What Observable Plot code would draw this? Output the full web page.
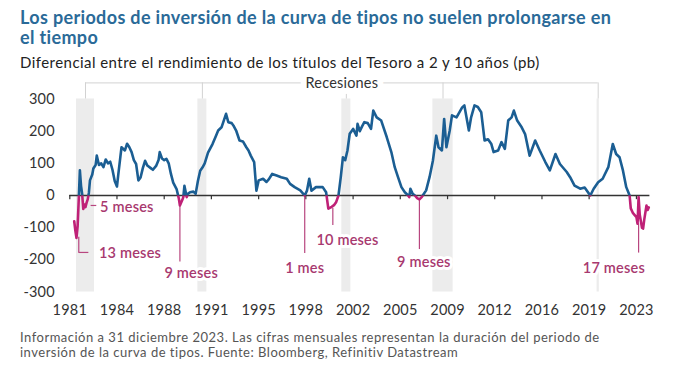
<!DOCTYPE html>
<html><head><meta charset="utf-8">
<script src="https://cdn.jsdelivr.net/npm/d3@7"></script>
<script src="https://cdn.jsdelivr.net/npm/@observablehq/plot@0.6"></script>
<style>
body{margin:0;background:#fff;width:700px;height:378px;overflow:hidden;position:relative;font-family:Lato,"Open Sans",sans-serif}
#title{position:absolute;left:20px;top:7px;font-size:18px;line-height:20px;font-weight:700;color:#2a6a98;width:680px;letter-spacing:0.35px;white-space:nowrap}
#subtitle{position:absolute;left:20px;top:54px;font-size:15px;line-height:17px;color:#222;font-weight:400;letter-spacing:0.45px;white-space:nowrap}
#chart{position:absolute;left:0;top:74px}
#caption{position:absolute;left:20px;top:330px;font-size:13px;line-height:15px;color:#555;width:690px;letter-spacing:0.5px;white-space:nowrap}
</style></head>
<body>
<div id="title">Los periodos de inversión de la curva de tipos no suelen prolongarse en<br>el tiempo</div>
<div id="subtitle">Diferencial entre el rendimiento de los títulos del Tesoro a 2 y 10 años (pb)</div>
<div id="chart"></div>
<div id="caption">Información a 31 diciembre 2023. Las cifras mensuales representan la duración del periodo de<br>inversión de la curva de tipos. Fuente: Bloomberg, Refinitiv Datastream</div>
<script>
// Monthly spread points (bp)
const dates = ["1981-05","1981-06","1981-07","1981-08","1981-09","1981-10","1981-11","1981-12","1982-01","1982-02","1982-03","1982-04","1982-05","1982-06","1982-07","1982-09","1982-10","1982-12","1983-01","1983-03","1983-05","1983-07","1983-09","1983-11","1984-01","1984-03","1984-05","1984-07","1984-08","1984-10","1984-11","1985-02","1985-04","1985-06","1985-08","1985-10","1985-12","1986-02","1986-04","1986-06","1986-08","1986-10","1987-01","1987-03","1987-06","1987-08","1987-09","1987-11","1988-01","1988-03","1988-05","1988-07","1988-09","1988-12","1989-02","1989-03","1989-05","1989-06","1989-07","1989-09","1989-10","1989-12","1990-03","1990-05","1990-07","1990-09","1990-11","1991-01","1991-04","1991-08","1991-11","1992-01","1992-04","1992-06","1992-08","1992-10","1993-01","1993-03","1993-05","1993-08","1993-11","1994-02","1994-04","1994-06","1994-09","1994-11","1995-01","1995-05","1995-08","1995-10","1996-01","1996-05","1996-09","1997-02","1997-05","1997-09","1998-02","1998-06","1998-08","1998-10","1998-12","1999-04","1999-10","2000-01","2000-03","2000-06","2000-08","2000-10","2000-12","2001-02","2001-04","2001-06","2001-08","2001-10","2002-01","2002-04","2002-05","2002-07","2002-09","2002-11","2003-02","2003-05","2003-07","2003-10","2004-02","2004-07","2004-11","2005-02","2005-05","2005-08","2005-11","2006-02","2006-03","2006-04","2006-06","2006-08","2006-10","2006-12","2007-02","2007-03","2007-06","2007-09","2007-12","2008-03","2008-05","2008-08","2008-10","2008-12","2009-03","2009-05","2009-09","2010-02","2010-04","2010-08","2010-10","2011-01","2011-04","2011-07","2011-10","2012-01","2012-04","2012-06","2012-10","2013-01","2013-04","2013-07","2013-10","2013-12","2014-03","2014-07","2014-10","2015-02","2015-07","2015-11","2016-04","2016-08","2017-01","2017-05","2017-11","2018-02","2018-06","2018-11","2019-03","2019-08","2019-11","2020-03","2020-07","2020-12","2021-04","2021-07","2021-10","2022-01","2022-04","2022-07","2022-08","2022-10","2023-01","2023-02","2023-03","2023-04","2023-06","2023-07","2023-08","2023-10","2023-11","2023-12"];
const spread = [-80,-110,-132,-95,-10,78,30,5,-42,-28,-36,-22,-12,8,47,65,84,95,124,95,100,88,112,100,105,80,45,28,60,120,150,140,161,150,135,110,98,47,56,85,108,93,85,80,93,110,135,115,110,114,100,67,40,20,-10,-31,-15,-5,30,-5,5,10,12,5,45,77,87,100,133,160,185,202,212,233,254,228,225,215,202,171,168,150,140,124,104,15,47,52,42,50,67,62,57,52,36,26,16,0,15,52,15,26,26,10,-41,-35,-30,-20,0,57,119,110,140,192,207,186,223,200,215,228,225,207,264,243,233,181,135,88,57,26,10,0,-5,21,5,0,-8,-12,-5,0,16,57,108,186,150,140,238,150,202,249,243,274,280,202,243,280,275,259,171,175,160,135,140,166,145,233,243,264,233,212,191,124,171,140,104,78,129,98,73,57,31,21,25,0,21,41,52,88,160,129,119,78,26,0,-40,-55,-67,-88,-5,-60,-100,-103,-75,-31,-45,-37];

// Recessions
const recStart = ["1981-07","1990-07","2001-03","2007-12","2020-02"];
const recEnd   = ["1982-11","1991-03","2001-11","2009-06","2020-04"];
const recLabel = "Recesiones";

// Axis ticks
const xTicks = ["1981-01","1984-07","1988-01","1991-07","1995-01","1998-07","2002-01","2005-07","2009-01","2012-07","2016-01","2019-07","2023-01"];
const yTicks = [-300,-200,-100,0,100,200,300];

// Inversion annotations
const annText  = ["13 meses","5 meses","9 meses","1 mes","10 meses","9 meses","17 meses"];
const annDate  = ["1983-03","1983-04","1990-01","1998-06","2001-08","2007-04","2021-05"];
const annValue = [-180,-38,-242,-226,-138,-209,-228];
const annAlign = ["start","start","middle","middle","middle","middle","middle"];
const leadDate = ["1981-09","1989-03","1998-06","2000-07","2006-12","2023-03"];
const leadTop  = [-130,-31,0,-40,-12,-88];
const leadBot  = [-177,-207,-180,-93,-168,-179];
const hLeadFrom = ["1981-09","1982-08"];
const hLeadTo   = ["1982-06","1983-01"];
const hLeadVal  = [-177,-31];

const P = s => d3.utcParse("%Y-%m")(s);
const series = dates.map((d,i)=>({date:P(d), value:spread[i]}));
const recs = recStart.map((s,i)=>({start:P(s), end:P(recEnd[i])}));
const recMid = recs.map(r=>new Date((+r.start + +r.end)/2));
const bracketY = 350;
const ann = annText.map((t,i)=>({text:t, date:P(annDate[i]), value:annValue[i], align:annAlign[i]}));
const leads = leadDate.map((d,i)=>({date:P(d), y1:leadTop[i], y2:leadBot[i]}));
const hleads = hLeadFrom.map((d,i)=>({x1:P(d), x2:P(hLeadTo[i]), y:hLeadVal[i]}));
const tickDates = xTicks.map(P);

const blue = "#1b5e93", mag = "#bf2177", annCol = "#a8396f", leadCol = "#b8467f";

const chart = Plot.plot({
  width: 700, height: 252,
  marginLeft: 69.3, marginRight: 50.6, marginTop: 24.5, marginBottom: 34.5,
  style: {fontFamily: "Lato, sans-serif", fontSize: "14.5px", color: "#333", background: "transparent", overflow: "visible", letterSpacing: "0.2px"},
  x: {type: "utc", domain: [P("1981-01"), P("2024-01")], ticks: tickDates, tickFormat: d3.utcFormat("%Y"), tickSize: 0, tickPadding: 13, label: null},
  y: {domain: [-300, 300], ticks: yTicks, tickFormat: d => String(d), tickSize: 0, tickPadding: 15, label: null},
  marks: [
    Plot.rect(recs, {x1: "start", x2: "end", y1: -300, y2: 300, fill: "#ececec"}),
    Plot.ruleX(recMid, {x: d => d, y1: 300, y2: bracketY, stroke: "#d2d2d2", strokeWidth: 1}),
    Plot.ruleY([bracketY], {x1: recMid[0], x2: recMid[recMid.length-1], stroke: "#d2d2d2", strokeWidth: 1}),
    Plot.text([recLabel], {x: new Date((+recMid[0] + +recMid[recMid.length-1])/2), y: bracketY, text: d => d, fill: "#333", fontSize: 14.5, stroke: "white", strokeWidth: 12, paintOrder: "stroke"}),
    Plot.ruleY([0], {stroke: "#333", strokeWidth: 1.3}),
    Plot.ruleX(tickDates, {x: d => d, y1: 0, y2: -13, stroke: "#333", strokeWidth: 1.2}),
    Plot.ruleX(leads, {x: "date", y1: "y1", y2: "y2", stroke: leadCol, strokeWidth: 1.2}),
    Plot.ruleY(hleads, {x1: "x1", x2: "x2", y: "y", stroke: leadCol, strokeWidth: 1.2}),
    Plot.line(series, {x: "date", y: "value", stroke: blue, strokeWidth: 2.6, curve: "linear"}),
    Plot.line(series, {x: "date", y: "value", stroke: mag, strokeWidth: 2.6, curve: "linear"}),
    Plot.text(ann.filter(a=>a.align==="start"), {x: "date", y: "value", text: "text", textAnchor: "start", fill: annCol, fontSize: 14.5, fontWeight: 600, stroke: "white", strokeWidth: 6, paintOrder: "stroke"}),
    Plot.text(ann.filter(a=>a.align==="middle"), {x: "date", y: "value", text: "text", textAnchor: "middle", fill: annCol, fontSize: 14.5, fontWeight: 600, stroke: "white", strokeWidth: 6, paintOrder: "stroke"})
  ]
});

// split the line colour at zero using the y scale
const y0 = chart.scale("y").apply(0);
const ns = "http://www.w3.org/2000/svg";
const defs = document.createElementNS(ns, "defs");
function mkClip(id, y, h) {
  const cp = document.createElementNS(ns, "clipPath"); cp.setAttribute("id", id);
  const r = document.createElementNS(ns, "rect");
  r.setAttribute("x", -50); r.setAttribute("y", y); r.setAttribute("width", 800); r.setAttribute("height", h);
  cp.appendChild(r); defs.appendChild(cp);
}
mkClip("clipPos", -100, y0 + 100);
mkClip("clipNeg", y0, 600);
chart.insertBefore(defs, chart.firstChild);
const lines = chart.querySelectorAll('g[aria-label="line"]');
lines[0].setAttribute("clip-path", "url(#clipPos)");
lines[1].setAttribute("clip-path", "url(#clipNeg)");

document.getElementById("chart").appendChild(chart);
</script>
</body></html>
